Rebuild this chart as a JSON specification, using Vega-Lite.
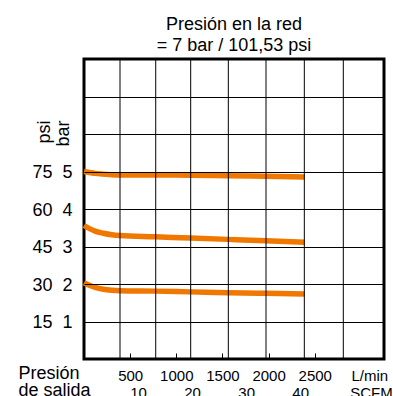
{
  "$schema": "https://vega.github.io/schema/vega-lite/v6.json",
  "width": 300,
  "height": 300,
  "autosize": "none",
  "padding": {"left": 84, "top": 59, "right": 9, "bottom": 37},
  "title": {
    "text": ["Presión en la red", "= 7 bar / 101,53 psi"],
    "fontSize": 18,
    "fontWeight": "normal",
    "lineHeight": 21,
    "offset": 4,
    "color": "black",
    "anchor": "middle"
  },
  "config": {
    "font": "Liberation Sans",
    "view": {"stroke": "black", "strokeWidth": 3}
  },
  "layer": [
    {
      "data": {
        "values": [
          {"series": "A", "lmin": 0, "bar": 5.0},
          {"series": "A", "lmin": 60, "bar": 4.975},
          {"series": "A", "lmin": 120, "bar": 4.95},
          {"series": "A", "lmin": 200, "bar": 4.93},
          {"series": "A", "lmin": 300, "bar": 4.915},
          {"series": "A", "lmin": 400, "bar": 4.907},
          {"series": "A", "lmin": 800, "bar": 4.905},
          {"series": "A", "lmin": 1150, "bar": 4.902},
          {"series": "A", "lmin": 1560, "bar": 4.888},
          {"series": "A", "lmin": 1970, "bar": 4.872},
          {"series": "A", "lmin": 2390, "bar": 4.853},
          {"series": "B", "lmin": 0, "bar": 3.56},
          {"series": "B", "lmin": 65, "bar": 3.47},
          {"series": "B", "lmin": 120, "bar": 3.41},
          {"series": "B", "lmin": 210, "bar": 3.355},
          {"series": "B", "lmin": 300, "bar": 3.315},
          {"series": "B", "lmin": 390, "bar": 3.293},
          {"series": "B", "lmin": 770, "bar": 3.26},
          {"series": "B", "lmin": 1150, "bar": 3.225},
          {"series": "B", "lmin": 1560, "bar": 3.19},
          {"series": "B", "lmin": 1970, "bar": 3.155},
          {"series": "B", "lmin": 2390, "bar": 3.112},
          {"series": "C", "lmin": 0, "bar": 2.035},
          {"series": "C", "lmin": 65, "bar": 1.96},
          {"series": "C", "lmin": 120, "bar": 1.91},
          {"series": "C", "lmin": 210, "bar": 1.86},
          {"series": "C", "lmin": 300, "bar": 1.835},
          {"series": "C", "lmin": 390, "bar": 1.822},
          {"series": "C", "lmin": 770, "bar": 1.81},
          {"series": "C", "lmin": 1150, "bar": 1.79},
          {"series": "C", "lmin": 1560, "bar": 1.768},
          {"series": "C", "lmin": 1970, "bar": 1.752},
          {"series": "C", "lmin": 2390, "bar": 1.733}
        ]
      },
      "mark": {"type": "line", "color": "#f07800", "strokeWidth": 5.5, "interpolate": "monotone"},
      "encoding": {
        "x": {
          "field": "lmin",
          "type": "quantitative",
          "scale": {"domain": [0, 3250], "nice": false, "zero": false},
          "axis": {
            "values": [500, 1000, 1500, 2000, 2500, 3090],
            "format": "d",
            "labelExpr": "datum.value > 3000 ? 'L/min' : datum.label",
            "grid": false,
            "domain": false,
            "offset": -6,
            "ticks": true,
            "tickSize": 6,
            "tickColor": "black",
            "tickWidth": 1,
            "tickOpacity": {"condition": {"test": "datum.value > 3000", "value": 0}, "value": 1},
            "labelFontSize": 15,
            "labelColor": "black",
            "labelBaseline": "alphabetic",
            "labelPadding": 21,
            "labelFlush": false,
            "labelOverlap": false,
            "title": ["Presión", "de salida"],
            "titleFontSize": 18,
            "titleFontWeight": "normal",
            "titleColor": "black",
            "titleAlign": "left",
            "titleBaseline": "alphabetic",
            "titleX": -66,
            "titleY": 25,
            "titleLineHeight": 17.5
          }
        },
        "y": {
          "field": "bar",
          "type": "quantitative",
          "scale": {"domain": [0, 8], "nice": false, "zero": false},
          "axis": {
            "values": [1, 2, 3, 4, 5, 6, 7],
            "labelExpr": "datum.value <= 5 ? (datum.value * 15) + '\u00a0 ' + datum.value : ''",
            "grid": true,
            "gridColor": "black",
            "gridWidth": 1,
            "gridOpacity": 1,
            "ticks": false,
            "tickSize": 0,
            "domain": false,
            "labelFontSize": 18,
            "labelColor": "black",
            "labelPadding": 12,
            "labelBaseline": "middle",
            "labelOffset": 1,
            "title": ["psi", "bar"],
            "titleFontSize": 18,
            "titleFontWeight": "normal",
            "titleColor": "black",
            "titleAngle": 270,
            "titleAlign": "right",
            "titleBaseline": "alphabetic",
            "titleX": -35,
            "titleY": 61,
            "titleLineHeight": 19,
            "zindex": 1
          }
        },
        "detail": {"field": "series", "type": "nominal"}
      }
    },
    {
      "data": {
        "values": [
          {"scfm": 6.66},
          {"scfm": 13.27},
          {"scfm": 19.74},
          {"scfm": 26.7},
          {"scfm": 33.67},
          {"scfm": 40.76},
          {"scfm": 47.97}
        ]
      },
      "mark": {"type": "rule", "color": "black", "strokeWidth": 1},
      "encoding": {
        "x": {
          "field": "scfm",
          "type": "quantitative",
          "scale": {"domain": [0, 55.5], "nice": false, "zero": false},
          "axis": {
            "orient": "bottom",
            "values": [10, 20, 30, 40, 53.1],
            "labelExpr": "datum.value > 50 ? 'SCFM' : datum.label",
            "grid": false,
            "domain": false,
            "ticks": false,
            "tickSize": 0,
            "labelFontSize": 15,
            "labelColor": "black",
            "labelBaseline": "alphabetic",
            "labelPadding": 38,
            "labelFlush": false,
            "labelOverlap": false,
            "title": null
          }
        }
      }
    }
  ],
  "resolve": {"scale": {"x": "independent"}}
}
